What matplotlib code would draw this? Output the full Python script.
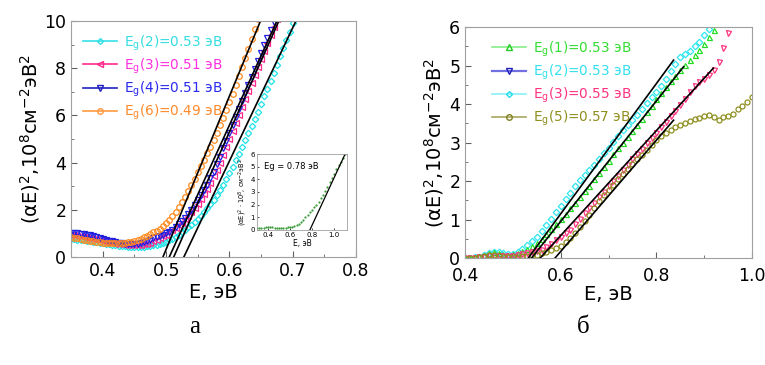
import numpy as np
import matplotlib
matplotlib.use('Agg')
import matplotlib.pyplot as plt
from matplotlib.lines import Line2D
from matplotlib.ticker import MultipleLocator

plt.rcParams['font.family'] = ['DejaVu Sans']

# ---------------- panel a ----------------
E_a = [0.350, 0.355, 0.360, 0.365, 0.370, 0.375, 0.380, 0.385, 0.390, 0.395,
       0.400, 0.405, 0.410, 0.415, 0.420, 0.425, 0.430, 0.435, 0.440, 0.445,
       0.450, 0.455, 0.460, 0.465, 0.470, 0.475, 0.480, 0.485, 0.490, 0.495,
       0.500, 0.505, 0.510, 0.515, 0.520, 0.525, 0.530, 0.535, 0.540, 0.545,
       0.550, 0.555, 0.560, 0.565, 0.570, 0.575, 0.580, 0.585, 0.590, 0.595,
       0.600, 0.605, 0.610, 0.615, 0.620, 0.625, 0.630, 0.635, 0.640, 0.645,
       0.650, 0.655, 0.660, 0.665, 0.670, 0.675, 0.680, 0.685, 0.690, 0.695,
       0.700]

cyan_a = [0.76, 0.75, 0.73, 0.72, 0.70, 0.68, 0.66, 0.64, 0.62, 0.60,
          0.58, 0.56, 0.54, 0.52, 0.50, 0.48, 0.46, 0.45, 0.43, 0.42,
          0.42, 0.42, 0.43, 0.44, 0.45, 0.47, 0.49, 0.52, 0.56, 0.60,
          0.65, 0.71, 0.78, 0.86, 0.95, 1.04, 1.14, 1.25, 1.36, 1.48,
          1.61, 1.75, 1.90, 2.06, 2.23, 2.42, 2.62, 2.84, 3.07, 3.31,
          3.56, 3.82, 4.09, 4.37, 4.66, 4.96, 5.26, 5.56, 5.86, 6.16,
          6.50, 6.80, 7.12, 7.45, 7.80, 8.15, 8.50, 8.85, 9.20, 9.55,
          9.90]

pink_a = [0.92, 0.91, 0.89, 0.87, 0.85, 0.82, 0.80, 0.77, 0.74, 0.71,
          0.68, 0.65, 0.62, 0.59, 0.57, 0.55, 0.53, 0.52, 0.51, 0.50,
          0.50, 0.51, 0.52, 0.54, 0.57, 0.61, 0.66, 0.72, 0.79, 0.87,
          0.95, 1.04, 1.13, 1.23, 1.34, 1.46, 1.59, 1.74, 1.90, 2.07,
          2.25, 2.45, 2.66, 2.89, 3.14, 3.41, 3.70, 4.00, 4.32, 4.65,
          4.99, 5.33, 5.67, 6.01, 6.35, 6.69, 7.03, 7.37, 7.71, 8.05,
          8.39, 8.73, 9.07, 9.41, 9.75, 10.09]

blue_a = [1.03, 1.02, 1.00, 0.98, 0.96, 0.94, 0.92, 0.89, 0.85, 0.80,
          0.75, 0.72, 0.69, 0.66, 0.63, 0.61, 0.59, 0.57, 0.56, 0.55,
          0.55, 0.56, 0.58, 0.62, 0.67, 0.73, 0.79, 0.84, 0.89, 0.94,
          1.00, 1.07, 1.16, 1.26, 1.38, 1.52, 1.67, 1.83, 2.01, 2.20,
          2.40, 2.61, 2.83, 3.06, 3.33, 3.61, 3.92, 4.25, 4.60, 4.92,
          5.25, 5.58, 5.92, 6.26, 6.60, 6.94, 7.28, 7.62, 7.96, 8.30,
          8.63, 8.96, 9.29, 9.62, 9.95, 10.28]

orange_a = [0.85, 0.82, 0.79, 0.76, 0.73, 0.70, 0.68, 0.66, 0.64, 0.62,
            0.61, 0.60, 0.59, 0.58, 0.58, 0.58, 0.59, 0.60, 0.62, 0.65,
            0.69, 0.73, 0.78, 0.84, 0.90, 0.97, 1.04, 1.11, 1.20, 1.31,
            1.43, 1.57, 1.73, 1.91, 2.11, 2.33, 2.56, 2.80, 3.05, 3.31,
            3.58, 3.85, 4.12, 4.40, 4.68, 4.97, 5.27, 5.58, 5.90, 6.23,
            6.57, 6.92, 7.28, 7.65, 8.03, 8.42, 8.82, 9.23, 9.65, 10.08]

# linear fits: start and end energy, from 0 to 10
fits_a = [(0.495, 0.649), (0.505, 0.675), (0.512, 0.678), (0.528, 0.705)]

labels_a = ['E$_{\\rm g}$(2)=0.53 эВ', 'E$_{\\rm g}$(3)=0.51 эВ',
            'E$_{\\rm g}$(4)=0.51 эВ', 'E$_{\\rm g}$(6)=0.49 эВ']

# inset
E_in = [0.30, 0.32, 0.34, 0.36, 0.38, 0.40, 0.42, 0.44, 0.46, 0.48,
        0.50, 0.52, 0.54, 0.56, 0.58, 0.60, 0.62, 0.64, 0.66, 0.68,
        0.70, 0.72, 0.74, 0.76, 0.78, 0.80, 0.82, 0.84, 0.86, 0.88,
        0.90, 0.92, 0.94, 0.96, 0.98, 1.00, 1.02, 1.04, 1.06, 1.08, 1.10]
y_in = [0.15, 0.17, 0.18, 0.19, 0.20, 0.21, 0.20, 0.20, 0.19, 0.19,
        0.18, 0.18, 0.18, 0.19, 0.20, 0.22, 0.25, 0.30, 0.38, 0.50,
        0.65, 0.82, 1.00, 1.20, 1.40, 1.60, 1.80, 2.00, 2.20, 2.50,
        2.80, 3.10, 3.40, 3.80, 4.10, 4.40, 4.80, 5.10, 5.40, 5.70, 6.00]
fit_in = (0.78, 1.10)

# ---------------- panel b ----------------
E_b = [0.40, 0.41, 0.42, 0.43, 0.44, 0.45, 0.46, 0.47, 0.48, 0.49,
       0.50, 0.51, 0.52, 0.53, 0.54, 0.55, 0.56, 0.57, 0.58, 0.59,
       0.60, 0.61, 0.62, 0.63, 0.64, 0.65, 0.66, 0.67, 0.68, 0.69,
       0.70, 0.71, 0.72, 0.73, 0.74, 0.75, 0.76, 0.77, 0.78, 0.79,
       0.80, 0.81, 0.82, 0.83, 0.84, 0.85, 0.86, 0.87, 0.88, 0.89,
       0.90, 0.91, 0.92, 0.93, 0.94, 0.95, 0.96, 0.97, 0.98, 0.99, 1.00]

green_b = [0.00, 0.01, 0.02, 0.05, 0.09, 0.13, 0.15, 0.14, 0.11, 0.09,
           0.10, 0.13, 0.18, 0.24, 0.31, 0.40, 0.50, 0.62, 0.75, 0.88,
           1.01, 1.15, 1.29, 1.44, 1.58, 1.73, 1.88, 2.04, 2.20, 2.37,
           2.53, 2.69, 2.85, 3.00, 3.15, 3.30, 3.46, 3.62, 3.78, 3.95,
           4.12, 4.29, 4.45, 4.60, 4.74, 4.88, 5.02, 5.15, 5.28, 5.40,
           5.55, 5.73, 5.92, 6.10]

cyan_b = [0.00, 0.01, 0.02, 0.04, 0.08, 0.12, 0.16, 0.17, 0.13, 0.10,
          0.11, 0.17, 0.24, 0.33, 0.43, 0.55, 0.69, 0.85, 1.02, 1.19,
          1.36, 1.53, 1.70, 1.86, 2.02, 2.15, 2.28, 2.42, 2.57, 2.72,
          2.87, 3.02, 3.17, 3.32, 3.45, 3.58, 3.72, 3.87, 4.02, 4.17,
          4.32, 4.48, 4.65, 4.85, 5.05, 5.22, 5.30, 5.38, 5.50, 5.62,
          5.78, 5.95, 6.10]

pink_b = [0.00, 0.00, 0.01, 0.02, 0.03, 0.05, 0.06, 0.06, 0.05, 0.05,
          0.06, 0.08, 0.10, 0.13, 0.16, 0.19, 0.22, 0.28, 0.37, 0.46,
          0.55, 0.64, 0.74, 0.88, 1.02, 1.16, 1.30, 1.44, 1.58, 1.72,
          1.86, 2.00, 2.14, 2.28, 2.42, 2.56, 2.70, 2.84, 2.98, 3.12,
          3.26, 3.40, 3.54, 3.68, 3.82, 3.98, 4.14, 4.32, 4.46, 4.56,
          4.66, 4.76, 4.88, 5.10, 5.45, 5.85, 6.10]

olive_b = [0.00, 0.00, 0.01, 0.03, 0.06, 0.09, 0.08, 0.06, 0.04, 0.03,
           0.03, 0.04, 0.05, 0.06, 0.07, 0.09, 0.12, 0.16, 0.20, 0.25,
           0.31, 0.41, 0.53, 0.66, 0.80, 0.96, 1.13, 1.30, 1.47, 1.63,
           1.77, 1.91, 2.04, 2.18, 2.31, 2.44, 2.56, 2.68, 2.80, 2.93,
           3.06, 3.17, 3.25, 3.33, 3.40, 3.46, 3.52, 3.56, 3.60, 3.64,
           3.70, 3.72, 3.66, 3.58, 3.66, 3.70, 3.74, 3.86, 3.95, 4.05, 4.18]

# linear fits: (E start, E end, y end)
fits_b = [(0.532, 0.836, 5.14), (0.539, 0.857, 4.97),
          (0.557, 0.919, 4.93), (0.588, 0.836, 3.58)]

labels_b = ['E$_{\\rm g}$(1)=0.53 эВ', 'E$_{\\rm g}$(2)=0.53 эВ',
            'E$_{\\rm g}$(3)=0.55 эВ', 'E$_{\\rm g}$(5)=0.57 эВ']

ylabel = '(αE)$^2$,10$^8$см$^{-2}$эВ$^2$'
spine_col = '#a0a0a0'


def style_axes(ax):
    for s in ax.spines.values():
        s.set_color(spine_col)
    ax.tick_params(which='both', direction='in', color='#606060',
                   labelsize=12.5, top=False, right=False)
    ax.tick_params(which='major', length=4)
    ax.tick_params(which='minor', length=2.5)


fig = plt.figure(figsize=(7.65, 3.65), dpi=100)

# panel a
ax1 = fig.add_axes([0.093, 0.296, 0.3725, 0.6466])
ax1.plot(E_a[:len(cyan_a)], cyan_a, ls='none', marker='D', color='#1fe3e8',
         mfc='none', ms=3.2, mew=0.9)
ax1.plot(E_a[:len(pink_a)], pink_a, ls='none', marker='<', color='#ff2a8c',
         mfc='none', ms=4, mew=0.9)
ax1.plot(E_a[:len(blue_a)], blue_a, ls='none', marker='v', color='#2020e0',
         mfc='none', ms=4, mew=0.9)
ax1.plot(E_a[:len(orange_a)], orange_a, ls='none', marker='o', color='#ff8a1e',
         mfc='none', ms=4, mew=0.9)
for e0, e1 in fits_a:
    ax1.plot([e0, e1], [0, 10], color='black', lw=1.2)
ax1.set_xlim(0.35, 0.8)
ax1.set_ylim(0, 10)
ax1.xaxis.set_minor_locator(MultipleLocator(0.05))
ax1.yaxis.set_major_locator(MultipleLocator(2))
ax1.yaxis.set_minor_locator(MultipleLocator(1))
ax1.set_xticks([0.4, 0.5, 0.6, 0.7, 0.8])
ax1.set_xticklabels(['0.4', '0.5', '0.6', '0.7', '0.8'])
style_axes(ax1)
ax1.set_xlabel('E, эВ', fontsize=14, labelpad=2)
ax1.set_ylabel(ylabel, fontsize=14, labelpad=2)

h_a = [Line2D([], [], color='#33e0e8', marker='D', ms=3, mfc='none', lw=1.2),
       Line2D([], [], color='#ff2a8c', marker='<', ms=4, mfc='none', lw=1.2),
       Line2D([], [], color='#2020c0', marker='v', ms=4, mfc='none', lw=1.2),
       Line2D([], [], color='#ff9a40', marker='o', ms=4, mfc='none', lw=1.2)]
leg = ax1.legend(h_a, labels_a, loc='upper left', bbox_to_anchor=(0.0, 1.0),
                 frameon=False, fontsize=9.8, handlelength=2.5,
                 handletextpad=0.5, labelspacing=0.28, borderaxespad=0.5)
for t, c in zip(leg.get_texts(), ['#33dde0', '#ff30e0', '#2a2aee', '#ff8a2a']):
    t.set_color(c)

# inset
axi = fig.add_axes([0.336, 0.370, 0.118, 0.208])
axi.plot(E_in, y_in, 'o', color='#3c9c3c', ms=1.6, mew=0)
axi.plot([fit_in[0], fit_in[1]], [0, 6], color='black', lw=0.9)
axi.set_xlim(0.3, 1.12)
axi.set_ylim(0, 6)
axi.set_xticks([0.4, 0.6, 0.8, 1.0])
axi.set_xticklabels(['0.4', '0.6', '0.8', '1.0'])
axi.set_yticks([0, 1, 2, 3, 4, 5, 6])
for s in axi.spines.values():
    s.set_color(spine_col)
    s.set_linewidth(0.6)
axi.tick_params(direction='in', labelsize=5, length=1.5, pad=1.5, width=0.5)
axi.set_xlabel('E, эВ', fontsize=5.5, labelpad=0.5)
axi.set_ylabel('(αE)$^2$ · 10$^8$, см$^{-2}$эВ$^2$', fontsize=4.8, labelpad=1)
axi.text(0.08, 0.9, 'Eg = 0.78 эВ', transform=axi.transAxes, fontsize=6,
         va='top')

# panel b
ax2 = fig.add_axes([0.608, 0.293, 0.375, 0.633])
ax2.plot(E_b[:len(cyan_b)], cyan_b, ls='none', marker='D', color='#2ee6f0',
         mfc='none', ms=3.3, mew=0.9)
ax2.plot(E_b[:len(green_b)], green_b, ls='none', marker='^', color='#22dd22',
         mfc='none', ms=3.6, mew=0.9)
ax2.plot(E_b[:len(pink_b)], pink_b, ls='none', marker='v', color='#ff3380',
         mfc='none', ms=3.6, mew=0.9)
ax2.plot(E_b[:len(olive_b)], olive_b, ls='none', marker='o', color='#8f8f20',
         mfc='none', ms=3.6, mew=0.9)
for e0, e1, y1 in fits_b:
    ax2.plot([e0, e1], [0, y1], color='black', lw=1.2)
ax2.set_xlim(0.4, 1.0)
ax2.set_ylim(0, 6)
ax2.xaxis.set_minor_locator(MultipleLocator(0.1))
ax2.yaxis.set_major_locator(MultipleLocator(1))
ax2.yaxis.set_minor_locator(MultipleLocator(0.5))
ax2.set_xticks([0.4, 0.6, 0.8, 1.0])
ax2.set_xticklabels(['0.4', '0.6', '0.8', '1.0'])
style_axes(ax2)
ax2.tick_params(axis='x', pad=6.5)
ax2.set_xlabel('E, эВ', fontsize=14, labelpad=0)
ax2.set_ylabel(ylabel, fontsize=14, labelpad=2)

h_b = [Line2D([], [], color='#88ee88', marker='^', mec='#22cc22', ms=4, mfc='none', lw=1.2),
       Line2D([], [], color='#7070e0', marker='v', mec='#2020c0', ms=4, mfc='none', lw=1.6),
       Line2D([], [], color='#88f0f8', marker='D', mec='#22dde8', ms=3, mfc='none', lw=1.2),
       Line2D([], [], color='#a8a860', marker='o', mec='#808020', ms=4, mfc='none', lw=1.2)]
leg2 = ax2.legend(h_b, labels_b, loc='upper left', bbox_to_anchor=(0.05, 1.0),
                  frameon=False, fontsize=9.8, handlelength=2.5,
                  handletextpad=0.5, labelspacing=0.28, borderaxespad=0.5)
for t, c in zip(leg2.get_texts(), ['#33dd33', '#33e0ee', '#ff3380', '#8f8f20']):
    t.set_color(c)

fig.text(0.255, 0.105, 'а', fontsize=18, family='Liberation Serif', ha='center', va='center')
fig.text(0.762, 0.105, 'б', fontsize=18, family='Liberation Serif', ha='center', va='center')

fig.savefig('out.png', dpi=100)
